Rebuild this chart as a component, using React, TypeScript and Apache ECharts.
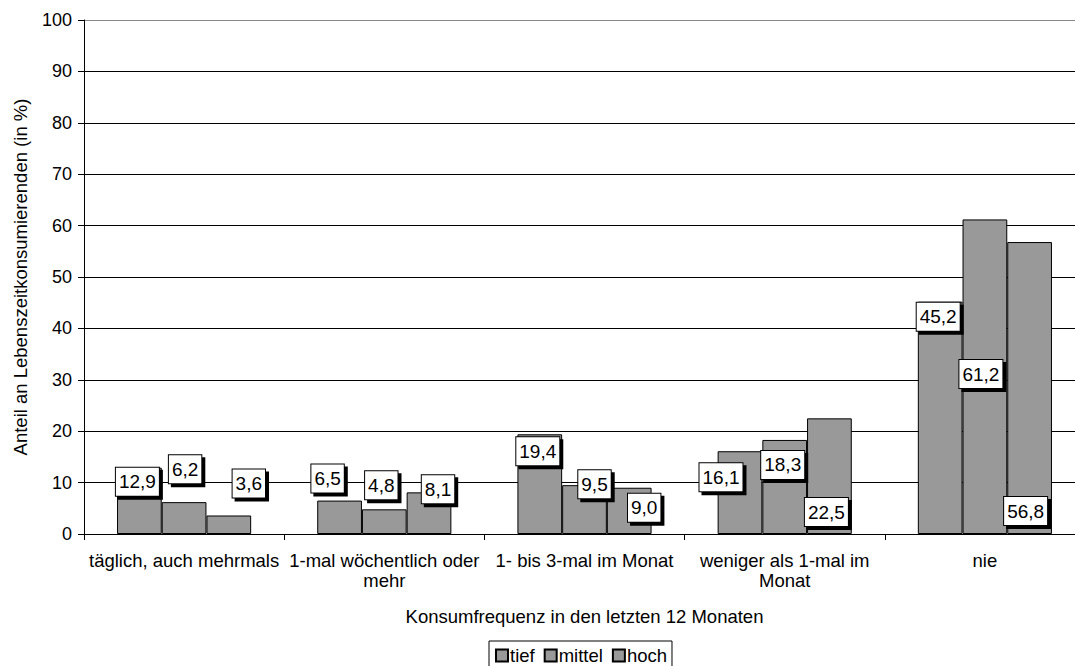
import React, { useEffect, useRef } from "react";
import * as echarts from "echarts";

const categories = [
  "täglich, auch mehrmals",
  "1-mal wöchentlich oder\nmehr",
  "1- bis 3-mal im Monat",
  "weniger als 1-mal im\nMonat",
  "nie",
];
const seriesNames = ["tief", "mittel", "hoch"];
const tief = [12.9, 6.5, 19.4, 16.1, 45.2];
const mittel = [6.2, 4.8, 9.5, 18.3, 61.2];
const hoch = [3.6, 8.1, 9.0, 22.5, 56.8];
const seriesValues = [tief, mittel, hoch];

// label placement (styling): anchor at bar top ("t") or bar bottom ("b"), offset of box centre
const labelPlacement: [string, number, number][][] = [
  [["t", -2, 14], ["t", -12, -22], ["t", -2, 17], ["t", -19, 26], ["t", -2, 15]],
  [["t", 1, -33], ["t", -3, -24], ["t", 10, -1], ["t", -2, 25], ["b", -4, -160]],
  [["t", 20, -32], ["t", 9, -3], ["t", 15, 20], ["b", -3, -22], ["b", -4, -23]],
];

const FONT = "'Liberation Sans', Arial, sans-serif";
const fmt = (v: number) => v.toFixed(1).replace(".", ",");

export default function App() {
  const ref = useRef<HTMLDivElement>(null);
  useEffect(() => {
    if (!ref.current) return;
    const chart = echarts.init(ref.current, undefined, { renderer: "svg" });
    const splitColors = [
      "#000", "#000", "#000", "#000", "#000", "#000", "#000", "#000", "#000", "#000", "#888",
    ];
    const series = seriesValues.map((vals, si) => ({
      name: seriesNames[si],
      type: "bar",
      barGap: "0%",
      barCategoryGap: "33%",
      itemStyle: { color: "#999999", borderColor: "#000", borderWidth: 1 },
      label: {
        show: true,
        formatter: (p: any) => fmt(p.value),
        fontFamily: FONT,
        fontSize: 19,
        lineHeight: 21,
        color: "#000",
        align: "center",
        verticalAlign: "middle",
        backgroundColor: "#fff",
        borderColor: "#000",
        borderWidth: 1,
        padding: [4, 3, 3, 3],
        shadowColor: "#000",
        shadowBlur: 0,
        shadowOffsetX: 3,
        shadowOffsetY: 3,
      },
      data: vals.map((v, i) => {
        const [anchor, dx, dy] = labelPlacement[si][i];
        return {
          value: v,
          label: {
            position: ["50%", anchor === "t" ? 0 : "100%"],
            offset: [dx, dy],
          },
        };
      }),
    }));
    chart.setOption({
      animation: false,
      backgroundColor: "#fff",
      textStyle: { fontFamily: FONT },
      grid: { left: 84, right: 1, top: 20, bottom: 132, outerBoundsMode: "none" },
      legend: {
        data: seriesNames,
        left: 489,
        top: 641,
        orient: "horizontal",
        padding: [5, 5, 12, 6],
        itemWidth: 12,
        itemHeight: 12,
        itemGap: 9,
        borderColor: "#000",
        borderWidth: 1,
        icon: "rect",
        textStyle: { fontFamily: FONT, fontSize: 18.5, color: "#000", padding: [0, 0, 0, -3] },
      },
      xAxis: {
        type: "category",
        data: categories,
        name: "Konsumfrequenz in den letzten 12 Monaten",
        nameLocation: "middle",
        nameGap: 73,
        nameTextStyle: { fontFamily: FONT, fontSize: 18.5, color: "#000" },
        axisLine: { lineStyle: { color: "#000", width: 1 } },
        axisTick: { show: true, length: 6, lineStyle: { color: "#000" } },
        axisLabel: {
          interval: 0,
          margin: 16,
          fontFamily: FONT,
          fontSize: 18.5,
          lineHeight: 20,
          color: "#000",
        },
      },
      yAxis: {
        type: "value",
        min: 0,
        max: 100,
        interval: 10,
        name: "Anteil an Lebenszeitkonsumierenden (in %)",
        nameLocation: "middle",
        nameGap: 54,
        nameTextStyle: { fontFamily: FONT, fontSize: 18.5, color: "#000" },
        axisLine: { show: true, lineStyle: { color: "#000", width: 1 } },
        axisTick: { show: true, length: 6, lineStyle: { color: "#000" } },
        axisLabel: { margin: 12, fontFamily: FONT, fontSize: 18, color: "#000" },
        splitLine: { show: true, lineStyle: { color: splitColors, width: 1 } },
      },
      series,
    });
    return () => chart.dispose();
  }, []);
  return (
    <div
      style={{
        position: "fixed",
        left: 0,
        top: 0,
        width: 1075,
        height: 666,
        overflow: "hidden",
        background: "#fff",
      }}
    >
      <div ref={ref} style={{ width: 1086, height: 666 }} />
    </div>
  );
}
